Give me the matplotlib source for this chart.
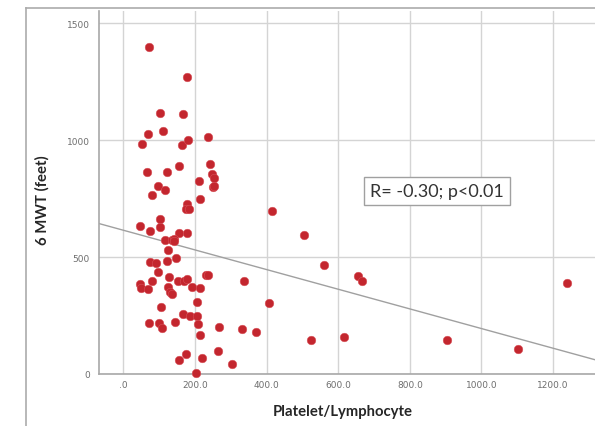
import numpy as np
import matplotlib
matplotlib.use("Agg")
import matplotlib.pyplot as plt
from matplotlib.lines import Line2D

# Platelet/Lymphocyte ratio vs 6-minute walk distance (feet)
plr = [72, 179, 101, 167, 110, 68, 235, 52, 164, 180,
       242, 156, 65, 121, 248, 253, 211, 96, 250, 254,
       116, 80, 214, 177, 174, 182, 101, 46, 101, 75,
       156, 179, 116, 135, 141, 141, 126, 148, 75, 92,
       121, 97, 230, 237, 127, 80, 153, 169, 177, 337,
       46, 49, 68, 126, 130, 137, 191, 214, 206, 105,
       167, 185, 206, 71, 100, 144, 108, 209, 266, 330,
       370, 214, 175, 264, 155, 219, 302, 204, 414, 504,
       559, 655, 667, 1238, 408, 524, 617, 904, 1103]
mwt = [1400, 1269, 1115, 1111, 1041, 1025, 1014, 982, 978, 1000,
       898, 888, 865, 862, 855, 838, 824, 802, 800, 803,
       785, 764, 750, 727, 704, 704, 661, 631, 627, 611,
       601, 604, 574, 574, 577, 570, 531, 498, 480, 473,
       483, 438, 423, 423, 414, 398, 398, 398, 405, 398,
       386, 368, 363, 374, 350, 340, 374, 367, 306, 287,
       257, 248, 248, 217, 220, 224, 197, 214, 203, 193,
       180, 168, 87, 97, 61, 67, 42, 6, 698, 593,
       466, 417, 397, 390, 304, 147, 157, 147, 107]

x_ticks = [0, 200, 400, 600, 800, 1000, 1200]
x_tick_labels = [".0", "200.0", "400.0", "600.0", "800.0", "1000.0", "1200.0"]
y_ticks = [0, 500, 1000, 1500]
y_tick_labels = ["0", "500", "1000", "1500"]
annotation = "R= -0.30; p<0.01"

W, H = 595, 427
fig = plt.figure(figsize=(W / 100, H / 100), dpi=100)
ax = fig.add_axes([99 / W, 1 - 375 / H, 1 - 99 / W, (375 - 12) / H])

xmin, xmax = -68, 1317
ymin, ymax = 0, 1552
ax.set_xlim(xmin, xmax)
ax.set_ylim(ymin, ymax)

ax.grid(True, color="#d4d4d4", lw=1.0, zorder=0)
ax.set_axisbelow(True)

# least-squares fit line across the full x range
x = np.array(plr, float)
y = np.array(mwt, float)
slope, intercept = np.polyfit(x, y, 1)
xs = np.array([xmin, xmax])
ax.plot(xs, intercept + slope * xs, color="#a0a0a0", lw=1.0, zorder=2)

ax.scatter(plr, mwt, s=38, color="#c3262e", edgecolors="#d85058",
           linewidths=0.4, zorder=3, clip_on=False)

for s in ["top", "right"]:
    ax.spines[s].set_visible(False)
for s in ["left", "bottom"]:
    ax.spines[s].set_color("#a8a8a8")
    ax.spines[s].set_linewidth(1.2)

ax.set_xticks(x_ticks)
ax.set_xticklabels(x_tick_labels)
ax.set_yticks(y_ticks)
ax.set_yticklabels(y_tick_labels)
ax.tick_params(axis="both", length=0, labelsize=6.5, labelcolor="#6e6e6e")
ax.tick_params(axis="y", pad=6.5)
ax.tick_params(axis="x", pad=4.5)

ax.set_xlabel("Platelet/Lymphocyte", fontsize=10.7, fontweight="bold",
              family="Lato", color="#262626")
ax.xaxis.set_label_coords((342.5 - 99) / (W - 99), -(405 - 375) / 363)
ax.set_ylabel("6 MWT (feet)", fontsize=10.7, fontweight="bold",
              family="Lato", color="#262626")
ax.yaxis.set_label_coords(-(99 - 50) / (W - 99), (375 - 200) / 363)

ax.text(875, 782, annotation, fontsize=13, family="Lato", color="#333333",
        ha="center", va="center", zorder=4,
        bbox=dict(boxstyle="square,pad=0.33", facecolor="white",
                  edgecolor="#a0a0a0", linewidth=1.0))

# outer frame around the panel
fx = 26 / W
fy = 1 - 9 / H
fig.add_artist(Line2D([fx, 1], [fy, fy], transform=fig.transFigure,
                      color="#ababab", lw=1.2))
fig.add_artist(Line2D([fx, fx], [0, fy], transform=fig.transFigure,
                      color="#ababab", lw=1.2))

fig.savefig("out.png", dpi=100)
